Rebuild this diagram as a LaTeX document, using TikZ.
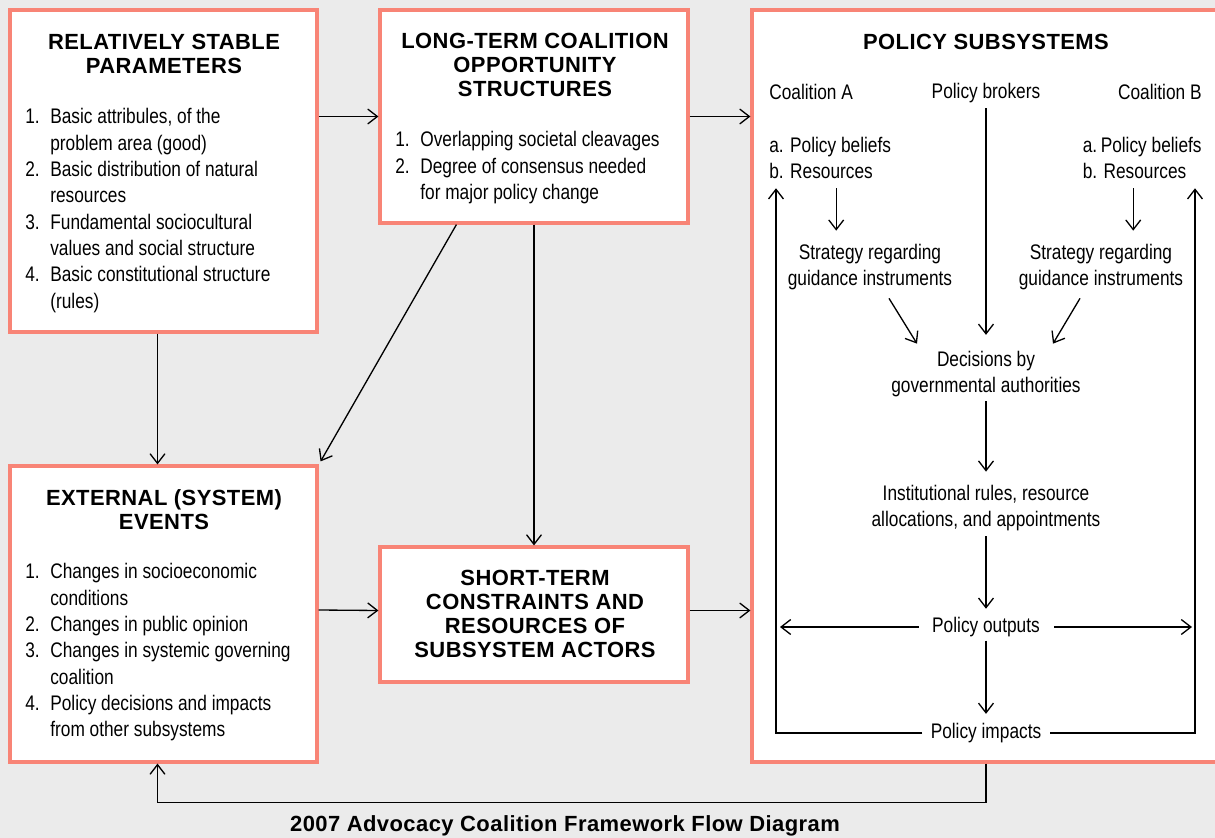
\documentclass[tikz,border=0pt]{standalone}
\usepackage{fontspec}
\setmainfont{Liberation Sans}[FakeStretch=0.82]
\newfontfamily\headfont{Liberation Sans}[LetterSpace=2]
\usetikzlibrary{arrows.meta,fit,calc}

\definecolor{panelgray}{RGB}{235,235,235}
\definecolor{boxred}{RGB}{248,132,118}

\begin{document}
\begin{tikzpicture}[
    x=0.02cm, y=-0.02cm,
    panel/.style={draw=boxred, line width=1.8pt, fill=white, inner sep=0pt},
    boxhead/.style={font=\headfont\bfseries\fontsize{12.5}{13.7}\selectfont, align=center, inner sep=0pt},
    listtxt/.style={font=\fontsize{12}{15}\selectfont, inner sep=0pt, anchor=north west},
    txt/.style={font=\fontsize{12}{15}\selectfont, inner sep=0pt},
    arr/.style={-{Straight Barb[length=5.5pt,width=8.5pt]}, line width=0.75pt}
]

\useasboundingbox (0,0) rectangle (1215,838);
\clip (0,0) rectangle (1215,838);
\fill[panelgray] (0,0) rectangle (1215,838);

% Panels
\node[panel, fit={(10,10) (317,332)}] (rsp) {};
\node[panel, fit={(380,10) (688,223)}] (ltc) {};
\node[panel, fit={(752,10) (1240,762)}] (ps) {};
\node[panel, fit={(10,466) (317,762)}] (ext) {};
\node[panel, fit={(380,547) (688,682)}] (stc) {};

% Relatively stable parameters
\node[boxhead] (rsphead) at (164,54) {RELATIVELY STABLE\\PARAMETERS};
\node[listtxt] (rsplist) at (25,105) {\begin{tabular}{@{}p{0.5cm}@{}l@{}}
    1. & Basic attribules, of the\\
       & problem area (good)\\
    2. & Basic distribution of natural\\
       & resources\\
    3. & Fundamental sociocultural\\
       & values and social structure\\
    4. & Basic constitutional structure\\
       & (rules)
\end{tabular}};

% Long-term coalition opportunity structures
\node[boxhead] (ltchead) at (535,65) {LONG-TERM COALITION\\OPPORTUNITY\\STRUCTURES};
\node[listtxt] (ltclist) at (395,128) {\begin{tabular}{@{}p{0.5cm}@{}l@{}}
    1. & Overlapping societal cleavages\\
    2. & Degree of consensus needed\\
       & for major policy change
\end{tabular}};

% External (system) events
\node[boxhead] (exthead) at (164,510) {EXTERNAL (SYSTEM)\\EVENTS};
\node[listtxt] (extlist) at (25,560) {\begin{tabular}{@{}p{0.5cm}@{}l@{}}
    1. & Changes in socioeconomic\\
       & conditions\\
    2. & Changes in public opinion\\
    3. & Changes in systemic governing\\
       & coalition\\
    4. & Policy decisions and impacts\\
       & from other subsystems
\end{tabular}};

% Short-term constraints
\node[boxhead] (stchead) at (535,614) {SHORT-TERM\\CONSTRAINTS AND\\RESOURCES OF\\SUBSYSTEM ACTORS};

% Policy subsystems
\node[boxhead] (pshead) at (986,42) {POLICY SUBSYSTEMS};
\node[txt, anchor=west] (coalA) at (769,92) {Coalition A};
\node[txt] (brokers) at (986,93) {Policy brokers};
\node[txt, anchor=east] (coalB) at (1202,92) {Coalition B};
\node[txt, align=left, anchor=west] (beliefsA) at (769,158) {a. Policy beliefs\\b. Resources};
\node[txt, align=left, anchor=east] (beliefsB) at (1202,158) {a.\,Policy beliefs\\b. Resources\hphantom{fs}};
\node[txt, align=center] (stratA) at (870,267) {Strategy regarding\\guidance instruments};
\node[txt, align=center] (stratB) at (1101,267) {Strategy regarding\\guidance instruments};
\node[txt, align=center] (decisions) at (986,374) {Decisions by\\governmental authorities};
\node[txt, align=center] (rules) at (986,508) {Institutional rules, resource\\allocations, and appointments};
\node[txt] (outputs) at (986,627) {Policy outputs};
\node[txt] (impacts) at (986,733) {Policy impacts};

% Caption
\node[boxhead, font=\headfont\bfseries\fontsize{12.5}{15}\selectfont] (caption) at (565,826) {2007 Advocacy Coalition Framework Flow Diagram};

% Between the panels
\draw[arr] (ltc.west -| rsp.east) -- (ltc.west);
\draw[arr] (ltc.east) -- (ltc.east -| ps.west);
\draw[arr] ($(rsp.south)+(-6,0)$) -- ($(ext.north)+(-6,0)$);
\draw[arr] ($(ltc.south west)+(78,0)$) -- ($(ext.north east)+(2,-3)$);
\draw[arr] (ltc.south) -- (stc.north);
\draw[arr] ($(ext.east)+(0,-4)$) -- ($(stc.west)+(0,-4)$);
\draw[arr] ($(stc.east)+(0,-4)$) -- ($(stc.east -| ps.west)+(0,-4)$);
\draw[arr] (impacts |- ps.south) -- ++(0,39) -| ($(ext.south)+(-6,0)$);

% Inside the subsystem
\draw[arr] ($(beliefsA.south)+(6,9)$) -- ($(beliefsA.south |- stratA.north)+(6,-13)$);
\draw[arr] ($(beliefsB.south)+(-9,9)$) -- ($(beliefsB.south |- stratB.north)+(-9,-13)$);
\draw[arr, shorten <=2.8pt, shorten >=9pt] (brokers.south) -- (decisions.north);
\draw[arr] ($(stratA.south)+(19,8)$) -- ($(decisions.north)+(-69,-7)$);
\draw[arr] ($(stratB.south)+(-21,8)$) -- ($(decisions.north)+(67,-7)$);
\draw[arr, shorten <=2.3pt, shorten >=7.4pt] (decisions.south) -- (rules.north);
\draw[arr, shorten <=2.8pt, shorten >=4.6pt] (rules.south) -- (outputs.north);
\draw[arr, shorten <=1.9pt, shorten >=5.1pt] (outputs.south) -- (impacts.north);
\draw[arr, shorten <=7.4pt] (outputs.west) -- ($(outputs.west -| beliefsA.west)+(11,0)$);
\draw[arr, shorten <=8pt] (outputs.east) -- ($(outputs.east -| beliefsB.east)+(-10,0)$);
\draw[arr, shorten <=4.6pt] (impacts.west) -| ($(beliefsA.south west)+(7,9)$);
\draw[arr, shorten <=5pt] (impacts.east) -| ($(beliefsB.south east)+(-7,9)$);

\end{tikzpicture}
\end{document}
